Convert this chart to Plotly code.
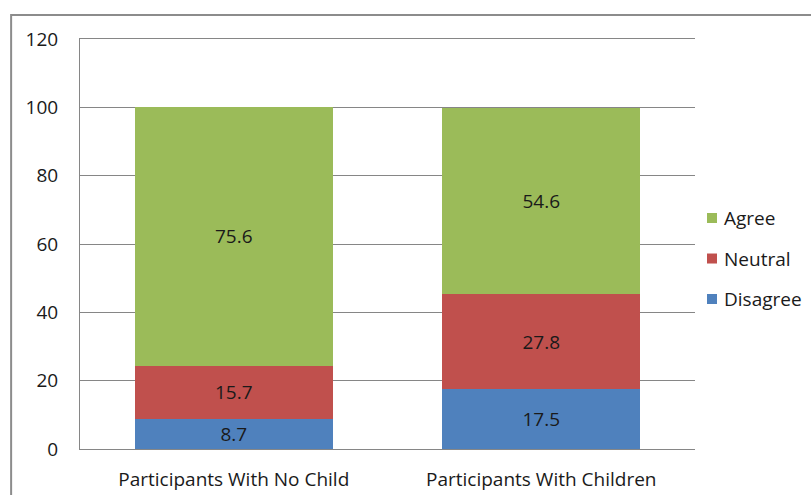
import plotly.graph_objects as go

categories = ["Participants With No Child", "Participants With Children"]
disagree = [8.7, 17.5]
neutral = [15.7, 27.8]
agree = [75.6, 54.6]
y_ticks = [0, 20, 40, 60, 80, 100, 120]

FONT = "Open Sans"
FSIZE = 19
TEXT = "#1a1a1a"
AXIS_GRAY = "#868686"

series = [
    ("Disagree", disagree, "#4F81BD"),
    ("Neutral", neutral, "#C0504D"),
    ("Agree", agree, "#9BBB59"),
]

fig = go.Figure()
for name, vals, color in series:
    fig.add_trace(go.Bar(
        x=categories,
        y=vals,
        name=name,
        showlegend=False,
        marker=dict(color=color, line=dict(width=0)),
        text=[f"{v:.1f}" for v in vals],
        textposition="inside",
        insidetextanchor="middle",
        textangle=0,
        constraintext="none",
        textfont=dict(family=FONT, size=FSIZE, color=TEXT),
        width=0.645,
    ))

# Key at the right of the plot: colour square plus series name, top entry = top of stack
shapes = [dict(
    type="rect", xref="paper", yref="paper",
    x0=-0.112, y0=-0.3, x1=1.4, y1=1.0585,
    line=dict(color="#8c8c8c", width=2), fillcolor="rgba(0,0,0,0)",
    layer="below",
)]
annotations = []
key_top, key_step = 0.5634, 0.0988
sq_h, sq_w = 0.0122, 0.0163
for i, (name, _, color) in enumerate(reversed(series)):
    yc = key_top - i * key_step
    shapes.append(dict(
        type="rect", xref="paper", yref="paper",
        x0=1.0195, x1=1.0195 + sq_w, y0=yc - sq_h, y1=yc + sq_h,
        line=dict(width=0), fillcolor=color,
    ))
    annotations.append(dict(
        xref="paper", yref="paper", x=1.044, y=yc,
        xanchor="left", yanchor="middle", showarrow=False,
        text=name, font=dict(family=FONT, size=FSIZE, color=TEXT),
    ))

fig.update_layout(
    width=811,
    height=495,
    barmode="stack",
    showlegend=False,
    paper_bgcolor="white",
    plot_bgcolor="white",
    margin=dict(l=80, r=116, t=39, b=46),
    font=dict(family=FONT, size=FSIZE, color=TEXT),
    xaxis=dict(
        showline=True, mirror=True, linecolor=AXIS_GRAY, linewidth=1,
        ticks="", ticklabelstandoff=13, automargin=False,
        tickfont=dict(family=FONT, size=FSIZE),
    ),
    yaxis=dict(
        range=[0, 120],
        tickvals=y_ticks,
        showgrid=True, gridcolor=AXIS_GRAY, gridwidth=1,
        showline=True, linecolor=AXIS_GRAY, linewidth=1,
        zeroline=False, automargin=False,
        ticks="", ticklabelstandoff=17,
        tickfont=dict(family=FONT, size=FSIZE),
    ),
    shapes=shapes,
    annotations=annotations,
)

fig.write_html("out.html")
